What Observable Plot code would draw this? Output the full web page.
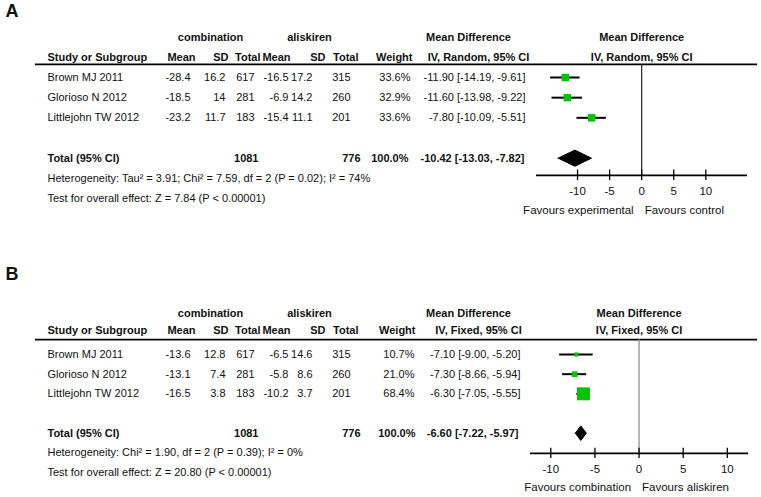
<!DOCTYPE html>
<html><head><meta charset="utf-8">
<script src="https://cdn.jsdelivr.net/npm/d3@7"></script>
<script src="https://cdn.jsdelivr.net/npm/@observablehq/plot@0.6"></script>
<style>
body{margin:0;background:#fff;}
#chart svg{display:block;}
</style></head><body><div id="chart"></div>
<script>
// ---------- shared data ----------
const studies = ["Brown MJ 2011", "Glorioso N 2012", "Littlejohn TW 2012"];
const groupLabels = ["combination", "aliskiren"];
const combTotal = [617, 281, 183];
const alisTotal = [315, 260, 201];
const sumTotals = [1081, 776];
const ticks = [-10, -5, 0, 5, 10];

// ---------- panel A ----------
const aCombMean = [-28.4, -18.5, -23.2];
const aCombSD = [16.2, 14, 11.7];
const aAlisMean = [-16.5, -6.9, -15.4];
const aAlisSD = [17.2, 14.2, 11.1];
const aWeight = [33.6, 32.9, 33.6];
const aMD = [-11.90, -11.60, -7.80];
const aLo = [-14.19, -13.98, -10.09];
const aHi = [-9.61, -9.22, -5.51];
const aPooled = [-10.42, -13.03, -7.82];
const aMethod = "IV, Random, 95% CI";
const aHet = "Heterogeneity: Tau² = 3.91; Chi² = 7.59, df = 2 (P = 0.02); I² = 74%";
const aTest = "Test for overall effect: Z = 7.84 (P < 0.00001)";
const aFavours = ["Favours experimental", "Favours control"];

// ---------- panel B ----------
const bCombMean = [-13.6, -13.1, -16.5];
const bCombSD = [12.8, 7.4, 3.8];
const bAlisMean = [-6.5, -5.8, -10.2];
const bAlisSD = [14.6, 8.6, 3.7];
const bWeight = [10.7, 21.0, 68.4];
const bMD = [-7.10, -7.30, -6.30];
const bLo = [-9.00, -8.66, -7.05];
const bHi = [-5.20, -5.94, -5.55];
const bPooled = [-6.60, -7.22, -5.97];
const bMethod = "IV, Fixed, 95% CI";
const bHet = "Heterogeneity: Chi² = 1.90, df = 2 (P = 0.39); I² = 0%";
const bTest = "Test for overall effect: Z = 20.80 (P < 0.00001)";
const bFavours = ["Favours combination", "Favours aliskiren"];

const FONT = "'Liberation Sans', Arial, sans-serif";
const FS = 11;
const INK = "#111";

function panel(d, L) {
  const rows = studies.map((s, i) => ({
    s, row: 2 + i,
    cm: d.cm[i], csd: d.csd[i], ct: combTotal[i],
    am: d.am[i], asd: d.asd[i], at: alisTotal[i],
    w: d.w[i], md: d.md[i], lo: d.lo[i], hi: d.hi[i]
  }));
  const f2 = v => v.toFixed(2);
  const ci = (m, l, h) => `${f2(m)} [${f2(l)}, ${f2(h)}]`;
  const one = [0];
  const txt = (data, o) => Plot.text(data, {frameAnchor: "left", fontSize: FS, fill: INK, ...o});
  const col = (key, right, fmt = String) => txt(rows, {y: "row", text: r => fmt(r[key]), dx: right, textAnchor: "end"});
  const head = (label, pos, anchor, row) => txt(one, {y: () => row, text: () => label, dx: pos, textAnchor: anchor, fontWeight: "bold"});

  const [pm, pl, ph] = d.pooled;
  const diamond = [
    {x: pl, y: 6}, {x: pm, y: 6 - L.dh}, {x: ph, y: 6}, {x: pm, y: 6 + L.dh}, {x: pl, y: 6}
  ];

  const marks = [
    Plot.text([d.letter], {frameAnchor: "top-left", dx: 5, dy: L.letterDy, text: t => t, fontSize: 18, fontWeight: "bold", textAnchor: "start", lineAnchor: "top", fill: INK}),
    head(groupLabels[0], 210, "middle", L.group),
    head(groupLabels[1], 309, "middle", L.group),
    head("Mean Difference", 468, "middle", L.group),
    Plot.text(one, {x: () => 0, y: () => L.group, text: () => "Mean Difference", fontSize: FS, fontWeight: "bold", fill: INK}),
    head("Study or Subgroup", 47, "start", L.header),
    head("Mean", 195, "end", L.header),
    head("SD", 228, "end", L.header),
    head("Total", 260, "end", L.header),
    head("Mean", 290, "end", L.header),
    head("SD", 325, "end", L.header),
    head("Total", 358, "end", L.header),
    head("Weight", L.wHead, "end", L.header),
    head(d.method, 478, "middle", L.header),
    Plot.text(one, {x: () => 0, y: () => L.header, text: () => d.method, fontSize: FS, fontWeight: "bold", fill: INK}),
    Plot.ruleY([L.underline], {y: v => v, insetLeft: 35, insetRight: 4, stroke: "#000", strokeWidth: 1.8}),
    txt(rows, {y: "row", text: "s", dx: 47, textAnchor: "start"}),
    col("cm", 190), col("csd", 225), col("ct", 254),
    col("am", 288), col("asd", 312), col("at", 350),
    col("w", L.wRight, v => v.toFixed(1) + "%"),
    txt(rows, {y: "row", text: r => ci(r.md, r.lo, r.hi), dx: L.mdRight, textAnchor: "end"}),
    head("Total (95% CI)", 47, "start", 6),
    head(String(sumTotals[0]), 258, "end", 6),
    head(String(sumTotals[1]), 360, "end", 6),
    head("100.0%", L.wTot, "end", 6),
    head(ci(pm, pl, ph), L.mdTot, "end", 6),
    txt(one, {y: () => 7, text: () => d.het, dx: 47, textAnchor: "start"}),
    txt(one, {y: () => 8, text: () => d.test, dx: 47, textAnchor: "start"}),
    Plot.ruleX([0], {x: v => v, y1: () => L.underline, y2: () => L.axis, stroke: L.zeroStroke, strokeWidth: 1.2}),
    Plot.ruleY([L.axis], {y: v => v, x1: () => L.xDomain[0], x2: () => L.xDomain[1], stroke: "#000", strokeWidth: 1.8}),
    Plot.ruleX(ticks, {x: v => v, y1: () => L.axis - 0.26, y2: () => L.axis + 0.26, stroke: "#000", strokeWidth: 1.3}),
    Plot.text(ticks, {x: v => v, y: () => L.axis, dy: 16, text: v => String(v), fontSize: 11.5, fill: INK}),
    Plot.text([d.favours[0]], {x: () => 0, y: () => L.axis, dy: L.favDy, dx: -8, text: t => t, textAnchor: "end", fontSize: 11.5, fill: INK}),
    Plot.text([d.favours[1]], {x: () => 0, y: () => L.axis, dy: L.favDy, dx: 3, text: t => t, textAnchor: "start", fontSize: 11.5, fill: INK}),
    Plot.ruleY(rows, {y: "row", x1: "lo", x2: "hi", stroke: "#000", strokeWidth: 2}),
    Plot.dot(rows, {x: "md", y: "row", r: "w", symbol: "square", fill: "#00c400", stroke: null}),
    Plot.line(diamond, {x: "x", y: "y", fill: "#000", stroke: "#000", strokeWidth: 1})
  ];

  return Plot.plot({
    width: 761, height: L.height,
    marginTop: 0, marginRight: 0, marginBottom: 0, marginLeft: 0,
    style: {fontFamily: FONT, background: "#fff", overflow: "visible"},
    x: {domain: L.xDomain, range: L.xRange, axis: null},
    y: {domain: [2, 8], range: L.yRange, axis: null},
    r: {type: "linear", domain: [0, L.rMax], range: [L.rMin, L.rPx]},
    marks
  });
}

const chart = document.getElementById("chart");
chart.append(panel(
  {letter: "A", cm: aCombMean, csd: aCombSD, am: aAlisMean, asd: aAlisSD, w: aWeight, md: aMD, lo: aLo, hi: aHi,
   pooled: aPooled, method: aMethod, het: aHet, test: aTest, favours: aFavours},
  {height: 248, letterDy: 4, xDomain: [-16.4, 16.5], xRange: [536, 747], yRange: [77, 198],
   group: 0, header: 1, underline: 1.35, axis: 6.85, dh: 0.4, zeroStroke: "#222",
   wHead: 412, wRight: 410, mdRight: 525, wTot: 408, mdTot: 524, favDy: 35, rMin: 1, rMax: 33.6, rPx: 4.25}
));
chart.append(panel(
  {letter: "B", cm: bCombMean, csd: bCombSD, am: bAlisMean, asd: bAlisSD, w: bWeight, md: bMD, lo: bLo, hi: bHi,
   pooled: bPooled, method: bMethod, het: bHet, test: bTest, favours: bFavours},
  {height: 249, letterDy: 19, xDomain: [-12.3, 12.4], xRange: [530, 748], yRange: [106, 224],
   group: -0.08, header: 0.78, underline: 1.24, axis: 7.03, dh: 0.37, zeroStroke: "#888",
   wHead: 415, wRight: 414, mdRight: 520, wTot: 415, mdTot: 518, favDy: 34, rMin: 1.4, rMax: 68.4, rPx: 7.3}
));
</script></body></html>
